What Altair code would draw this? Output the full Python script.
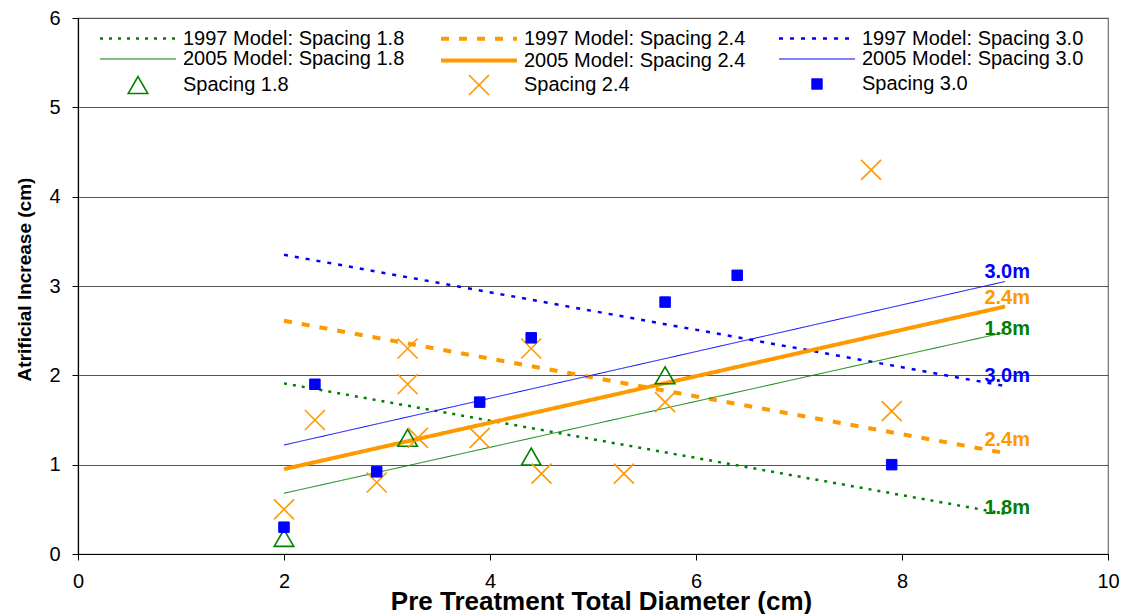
import altair as alt
import pandas as pd

FONT = "Liberation Sans"

# ---- series names (legend order) ----
series_names = [
    "1997 Model: Spacing 1.8", "1997 Model: Spacing 2.4", "1997 Model: Spacing 3.0",
    "2005 Model: Spacing 1.8", "2005 Model: Spacing 2.4", "2005 Model: Spacing 3.0",
    "Spacing 1.8", "Spacing 2.4", "Spacing 3.0",
]

# ---- model lines ----
line_x = [2, 9]
m1997_18 = [1.91, 0.45]
m1997_24 = [2.61, 1.13]
m1997_30 = [3.35, 1.88]
m2005_18 = [0.68, 2.48]
m2005_24 = [0.95, 2.77]
m2005_30 = [1.22, 3.05]

# ---- observed points ----
s18_x = [2.0, 3.2, 4.4, 5.7]
s18_y = [0.18, 1.30, 1.09, 2.00]
s24_x = [2.0, 2.3, 3.2, 3.2, 3.3, 2.9, 3.9, 4.4, 4.5, 5.3, 5.7, 7.7, 7.9]
s24_y = [0.50, 1.50, 2.30, 1.90, 1.30, 0.80, 1.30, 2.30, 0.90, 0.90, 1.70, 4.30, 1.60]
s30_x = [2.0, 2.3, 2.9, 3.9, 4.4, 5.7, 6.4, 7.9]
s30_y = [0.30, 1.90, 0.92, 1.70, 2.42, 2.82, 3.12, 1.00]

# ---- end labels ----
lab_text = ["3.0m", "2.4m", "1.8m", "3.0m", "2.4m", "1.8m"]
lab_x = [8.8, 8.8, 8.8, 8.8, 8.8, 8.8]
lab_y = [3.16, 2.87, 2.52, 1.99, 1.28, 0.52]
lab_col = ["#0000FF", "#FF9900", "#008000", "#0000FF", "#FF9900", "#008000"]

GREEN, ORANGE, BLUE = "#008000", "#FF9900", "#0000FF"

lines_rows = []
for name, ys in zip(series_names[:6], [m1997_18, m1997_24, m1997_30, m2005_18, m2005_24, m2005_30]):
    for xv, yv in zip(line_x, ys):
        lines_rows.append({"series": name, "x": xv, "y": yv})
lines_df = pd.DataFrame(lines_rows)

pts_rows = []
for name, xs, ys in zip(series_names[6:], [s18_x, s24_x, s30_x], [s18_y, s24_y, s30_y]):
    for xv, yv in zip(xs, ys):
        pts_rows.append({"series": name, "x": xv, "y": yv})
pts_df = pd.DataFrame(pts_rows)

lab_df = pd.DataFrame({"label": lab_text, "x": lab_x, "y": lab_y, "col": lab_col})

LINE_PATH = "M-4,0L4,0"
X_PATH = "M-1,-1L1,1M-1,1L1,-1"

legend = alt.Legend(
    title=None, orient="none", legendX=22, legendY=9, columns=3, direction="horizontal",
    columnPadding=28, rowPadding=0, symbolOffset=26.5, labelOffset=33.5,
    labelFont=FONT, labelFontSize=20, labelColor="black", labelLimit=400,
    padding=0, symbolLimit=20,
)

stroke_scale = alt.Scale(domain=series_names,
                         range=[GREEN, ORANGE, BLUE, GREEN, ORANGE, BLUE, GREEN, ORANGE, BLUE])
fill_scale = alt.Scale(domain=series_names,
                       range=["transparent"] * 8 + [BLUE])
shape_scale = alt.Scale(domain=series_names,
                        range=[LINE_PATH] * 6 + ["triangle-up", X_PATH, "square"])
size_scale = alt.Scale(type="ordinal", domain=series_names,
                       range=[361] * 6 + [380, 400, 110])
dash_scale = alt.Scale(domain=series_names,
                       range=[[3, 6], [8, 10], [4, 7], [1, 0], [1, 0], [1, 0], [1, 0], [1, 0], [1, 0]])
width_scale = alt.Scale(type="ordinal", domain=series_names,
                        range=[2.5, 4, 2.5, 1, 4, 1, 1.6, 1.6, 1])

x_enc = alt.X("x:Q", scale=alt.Scale(domain=[0, 10], nice=False),
              axis=alt.Axis(values=[0, 2, 4, 6, 8, 10], format="d", grid=False, tickSize=6,
                            labelFlush=False, labelPadding=11,
                            title="Pre Treatment Total Diameter (cm)",
                            titleX=523, titleY=55, titleAlign="center",
                            titleBaseline="alphabetic", titleFontSize=26))
y_enc = alt.Y("y:Q", scale=alt.Scale(domain=[0, 6], nice=False),
              axis=alt.Axis(values=[0, 1, 2, 3, 4, 5, 6], format="d", grid=True, tickSize=6,
                            labelPadding=12, title="Atrificial Increase (cm)",
                            titleX=-54, titleY=261, titleAlign="center",
                            titleBaseline="middle", titleAngle=270, titleFontSize=19))

lines = alt.Chart(lines_df).mark_line(opacity=1).encode(
    x=x_enc, y=y_enc,
    stroke=alt.Stroke("series:N", scale=stroke_scale, legend=legend),
    strokeDash=alt.StrokeDash("series:N", scale=dash_scale, legend=legend),
    strokeWidth=alt.StrokeWidth("series:N", scale=width_scale, legend=legend),
)

points = alt.Chart(pts_df).mark_point(opacity=1).encode(
    x="x:Q", y="y:Q",
    stroke=alt.Stroke("series:N", scale=stroke_scale, legend=legend),
    fill=alt.Fill("series:N", scale=fill_scale, legend=legend),
    shape=alt.Shape("series:N", scale=shape_scale, legend=legend),
    size=alt.Size("series:N", scale=size_scale, legend=legend),
    strokeWidth=alt.StrokeWidth("series:N", scale=width_scale, legend=legend),
)

labels = alt.Chart(lab_df).mark_text(
    align="left", baseline="middle", font=FONT, fontSize=20, fontWeight="bold"
).encode(x="x:Q", y="y:Q", text="label:N", color=alt.Color("col:N", scale=None))

chart = alt.layer(lines, points, labels).properties(
    width=1030, height=536,
    background="white",
    autosize=alt.AutoSizeParams(type="none"),
    padding={"left": 70, "top": 10, "right": 12, "bottom": 60},
).configure_view(
    stroke="#707070", strokeWidth=1.2
).configure_axis(
    labelFont=FONT, labelFontSize=20, labelColor="black",
    titleFont=FONT, titleFontWeight="bold", titleColor="black",
    domainColor="black", domainWidth=1.2, tickColor="black", tickWidth=1,
    gridColor="#555555", gridWidth=1,
)

chart.save("out.html", embed_options={"renderer": "svg", "actions": False})
